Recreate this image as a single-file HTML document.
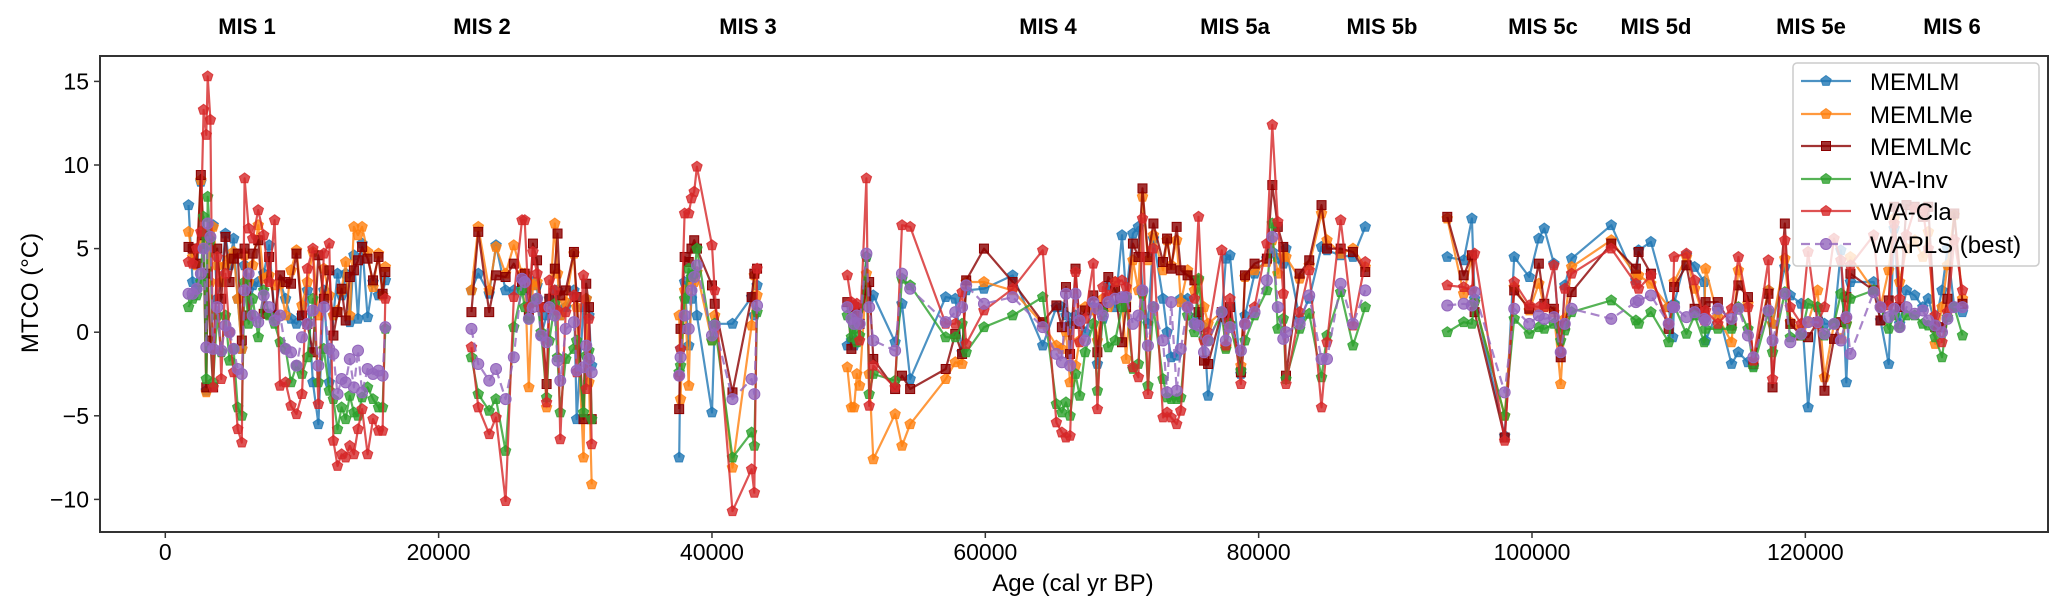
<!DOCTYPE html>
<html><head><meta charset="utf-8">
<style>
html,body{margin:0;padding:0;background:#fff;}
svg{display:block;font-family:"Liberation Sans",Arial,sans-serif;}
</style></head>
<body>
<svg id="chart" width="2067" height="614" viewBox="0 0 2067 614" xmlns="http://www.w3.org/2000/svg">
<rect x="0" y="0" width="2067" height="614" fill="#fff"/>
<g id="top-labels" font-weight="bold" font-size="22" text-anchor="middle" fill="#000">
<text x="247" y="34">MIS 1</text>
<text x="482" y="34">MIS 2</text>
<text x="748" y="34">MIS 3</text>
<text x="1048" y="34">MIS 4</text>
<text x="1235" y="34">MIS 5a</text>
<text x="1382" y="34">MIS 5b</text>
<text x="1543" y="34">MIS 5c</text>
<text x="1656" y="34">MIS 5d</text>
<text x="1811" y="34">MIS 5e</text>
<text x="1952" y="34">MIS 6</text>
</g>
<defs><clipPath id="plotclip"><rect x="100" y="56" width="1948" height="476"/></clipPath></defs>
<g id="axes"></g>
<g id="series" clip-path="url(#plotclip)"></g>
<rect x="100" y="56" width="1948" height="476" fill="none" stroke="#333" stroke-width="2"/>
<g id="legend"></g>
<text x="1073" y="591" font-size="24" text-anchor="middle">Age (cal yr BP)</text>
<text x="0" y="0" font-size="24" text-anchor="middle" transform="translate(38,293) rotate(-90)">MTCO (°C)</text>
</svg>
<script>
const ages = [
1700,2000,2300,2600,2800,3000,3100,3300,3500,3800,4100,4400,4700,5000,5300,5600,5800,6100,6400,6800,7200,7600,8000,8400,8800,9200,9600,10000,10400,10800,11200,11600,12000,12300,12600,12900,13200,13500,13800,14100,14400,14800,15200,15600,15900,16100,
22400,22900,23700,24200,24900,25500,26100,26300,26600,26900,27200,27500,27900,28100,28500,28700,28900,29300,29900,30100,30600,30800,31000,31200,
37600,37700,38000,38300,38500,38700,38900,40000,40200,41500,42900,43100,43300,
49900,50200,50400,50600,50800,51300,51500,51800,53400,53900,54500,57100,57800,58300,58600,59900,62000,64200,65200,65600,65900,66200,66600,66900,67300,67900,68200,68600,69000,69500,70000,70300,70800,71200,71500,71900,72300,73000,73300,73600,74000,74300,74800,75300,75600,76000,76300,77300,77600,77900,78700,79000,79700,80600,81000,81400,81800,82000,83000,83700,84600,85000,86000,86900,87800,
93800,95000,95600,95800,98000,98700,99800,100500,100900,101600,102100,102400,102900,105800,107600,107800,108700,110000,110300,110400,111300,111900,112600,112700,113600,114600,115100,115800,116200,117300,117600,118500,118900,119700,120200,120900,121400,122100,122600,123000,123300,125000,125500,126100,126500,126900,127400,128000,128600,129000,129500,130000,130400,130900,131500];
const memlm = [
7.6,3,2.6,9,5,-3.5,6,5.5,6.4,2,3,5.9,4,5.6,2,-1,4,2.5,2.8,3,3.5,5.2,1,3,2,0.8,0.5,1,2.5,-3,-5.5,2.5,-3,1,3.5,2.2,3.5,0.6,4.6,0.8,5.3,0.9,3,2.2,2.2,3.1,
2.5,3.5,2.3,5.2,2.5,2.5,3,2.5,1.5,3,2.8,-0.2,1,2,2.5,2.5,1,1.5,2.5,-5.2,1.5,2,1,-2,
-7.5,-1,3,-0.8,2,3.5,1,-4.8,0.5,0.5,2.1,1,2.8,
-0.8,-0.5,-0.8,1.5,0.5,4.5,2,2.2,-0.6,1.7,-2.8,2.1,2,-1.2,2.5,2.6,3.4,-0.8,1.5,1.5,1,0.5,1,0.5,0,1.5,-1.9,0.8,2.8,1.5,5.8,2.2,5.9,6.3,2.5,0.5,5.6,2,0,-1.5,-1.4,2,2,0.5,1,0.3,-3.8,1,4.4,4.6,-2.5,1,3.5,4.4,4.8,4.4,4.1,5,0.8,2,5.1,4.9,4.6,4.5,6.3,
4.5,4.3,6.8,2,-6.2,4.5,3.3,5.6,6.2,4.1,-1.3,2.8,4.4,6.4,3.1,4.9,5.4,1.5,-0.3,1.7,4.6,3.9,3,-0.5,1.3,-1.9,-1.2,-1.8,-2,2.5,0.5,3.9,2.2,1.7,-4.5,1.5,0.5,0.5,4.9,-3,3,3,0.7,-1.9,6.2,0.5,2.5,2.2,1.5,2,0.5,2.5,5,1.5,1.2];
const memlme = [
6,4.5,4,9.1,5.5,-3.6,6,3,6.3,4,3,4,4.4,4.8,2,-1,4.6,3,4,6.4,3.2,3.4,2.8,2.9,1,3.7,4.9,1.6,3,4.8,1,3.8,2.2,1,1.3,2.5,4.2,1,6.3,5.8,6.3,4.8,2.7,4.7,2.2,3.9,
2.5,6.3,2.5,5.1,3.5,5.2,3.5,3.5,-3.3,2.8,3,1.5,-4.5,1.5,6.5,3.5,1,1.8,4.7,1.5,-7.5,2,-3,-9.1,
1,-4,2.5,-3.2,3,3,3.6,-0.5,1,-8.1,0.4,3.4,2.2,
-2.1,-4.5,-4.5,-2.5,-3.2,3.5,-2.5,-7.6,-4.9,-6.8,-5.5,-2.8,-1.8,-1.9,3,3,2.5,0.5,-0.8,-1,0,-3,-2,-0.5,1.5,1.3,-0.5,2,1.5,3,1.9,-1.6,4.3,2.5,8.1,4.3,5.8,3.7,5.5,4,5.5,1.8,3.7,2.5,3.1,1.5,0.5,1.2,-0.9,0.5,-2,3.3,3.7,4.2,5.5,3.5,4.6,4.5,3.2,4,7.1,5.5,4.7,5,3.9,
6.8,2.3,4.5,1.8,-5,2.7,1.3,2.9,1.5,1.2,-3.1,0.8,3.9,5.5,3.4,3.4,2.9,1.5,1.5,3,4.5,2.6,0.8,3.8,0.9,-0.6,3.7,1.7,-1.7,2.5,0.5,4.4,0.6,0.2,0.6,2.5,-2.7,0.5,-0.4,0.5,4.5,2.5,1.5,3.7,6.8,3,5,5.5,4.5,6,-0.7,1.5,4,7,2];
const memlmc = [
5.1,5,4.1,9.4,5.8,-3.3,3.5,-0.5,-3.3,5,2,5.7,3,4.4,4.7,-0.5,5,1,4.7,5.5,1.1,4.5,1,3.4,3,2.9,4.7,1,0.5,-1.2,4.6,2,3.7,-0.2,1.2,2.6,0.7,3.3,3.7,4.3,5.1,4.4,3.1,4.5,2.3,3.6,
1.2,6,1.2,3.4,3.3,4.1,3,3.5,1,5.3,4.3,1.5,-3.1,2,3.8,5.9,2.2,2.5,4.8,2.1,-5.2,2.9,1.5,-5.2,
-4.6,0.2,4.5,4.2,5,5.5,5,2.8,1.7,-3.6,2.1,3.5,3.8,
1.8,-1,1.5,1.2,0.5,2.5,3,-1.6,-3.4,-2.6,-3.4,-2.2,-0.1,-1.3,3.1,5,3,0.6,1.6,0.3,2.7,-1.3,3.8,0.5,1.3,2.2,-1.2,1.5,3.3,2.5,-0.6,1.5,5.3,4.5,8.6,4.5,6.5,4.2,5.6,3.8,6.3,3.7,3.4,3.1,1.2,-1.7,-1.9,1.2,0.9,1.5,-2.4,3.4,4.1,4.4,8.8,6.3,5.1,-2.6,3.5,4.3,7.6,5,5,4.8,3.6,
6.9,3.4,4.6,1.2,-6.3,2.5,1.4,4.1,1.7,1.4,-1.5,0.4,2.4,5.3,3.8,4.8,3.5,0.2,1.5,2.7,4,1.4,1.2,1.8,1.8,0.4,2.8,2.1,-1.9,2.3,-3.3,6.5,0.5,-0.2,-0.3,0.6,-3.5,-0.4,0.6,2.1,3.5,2.5,0.7,1.9,7.5,1.5,7.6,7.5,6.9,7.5,0.3,0.3,2,7.1,1.7];
const waInv = [
1.5,2,2.2,3,6.9,-2.8,8.1,5.5,-3,1,-1.2,1,-1.7,-1,-4.5,-5,3,0.5,2,-0.3,2.5,1,0.5,-0.6,-1,-3,-2,-2.5,-1.5,2,-3,-1,-3.5,-4,-5.8,-4.5,-5.2,-3.8,-4.8,-5,-3.9,-3.3,-4,-4.5,-4.5,0.2,
-1.5,-3.7,-4.7,-4,-7.1,0.3,2.5,1.5,0.8,1.8,2,0,-3.9,-0.5,1.7,-1.5,-4.8,-1.6,-1,-0.5,-4.8,-1.4,-1.1,-5.2,
-2.4,-2,2,3.8,3.3,3.5,5,-0.5,0.5,-7.5,-6,-6.8,1.2,
1,-0.3,0.2,-0.6,-0.2,4.5,-3.7,-2.5,-2.9,3.2,2.8,-0.3,-0.3,0.5,-1.2,0.3,1,2.1,-4.3,-4.8,-4.2,-5,-2.5,-3.8,-1.2,0.5,-3.5,1.2,-0.9,-0.5,1.5,2,-2.2,-1.9,2.3,-3.2,1.5,-2.8,-3.9,-4,-4,-3.9,1,0,3.2,-0.4,-0.5,1.2,-1,0.5,-2.3,-0.5,1,2.5,6.5,0.2,0.8,-2.8,0.2,1.1,-2.7,-0.2,2.4,-0.8,1.5,
0,0.6,0.5,1.8,-5,0.8,-0.1,0.3,0.2,0.5,-0.5,0.1,1.2,1.9,0.7,0.5,1.2,-0.6,1.5,1.6,-0.1,1,-0.6,0.2,0.2,0.2,1.5,0.2,-2.1,1.2,-1.2,2.4,-0.3,-0.2,1.7,1.5,-0.2,0.5,2.3,0.5,2,2.5,1.5,0.2,1,0.3,1,1,0.5,0.4,-0.3,-1.5,0.9,1.5,-0.2];
const waCla = [
4.2,4.1,5,6,13.3,11.8,15.3,12.7,-3.3,4.5,-2.8,3.5,0,-2.4,-5.8,-6.6,9.2,6.2,5.6,7.3,5.8,3,6.7,-3.2,-3,-4.4,-4.9,-3.7,3.8,5,-4.3,4.7,5.3,-6.5,-8,-7.3,-7.5,-6.8,-7.3,-5.8,-4.6,-7.3,-5.2,-5.9,-5.9,2,
-0.9,-4.5,-6.1,-5.1,-10.1,2.1,6.7,6.7,1.5,4.8,3.5,1.5,-4.2,3.1,2.5,1.3,-6.4,1.2,2.2,-2.4,3.4,-3.4,0.8,-6.7,
-2.6,-1,7.1,7.1,8,8.4,9.9,5.2,2.5,-10.7,-8.2,-9.6,3.8,
3.4,1.8,1.6,1.7,-0.5,9.2,-4.4,-2,-3.3,6.4,6.3,0.5,0.5,2.4,-0.7,1.3,2.6,4.9,-5.4,-6,-6.3,-6.2,3.6,-0.6,0.8,4.1,-4.6,2.7,2.2,3,3.1,2.7,-2.1,-2.7,6.8,-3.7,5,-5.1,-4.8,-5.1,-5.5,-4.7,1.5,2,6.9,-0.5,0,4.9,-0.8,2,-3.1,0.5,1.5,5.3,12.4,6.6,2.3,-3.1,1.2,3.7,-4.5,-0.6,6.7,0.4,4.2,
2.8,2.7,2.5,4.7,-6.5,3,1.6,1.5,1.5,4,-1.2,2.6,3.5,5,2.9,2.6,3.4,0.5,1.5,4.5,4.7,3.1,0.7,1.3,0.5,1.4,4.5,1.5,-1.7,4.3,-2.8,5.5,1.5,0.5,4.8,0.5,1.5,5.6,4.3,0.8,4,5.8,1.5,1.6,6.5,2,5.8,7.4,7.3,5,1,-0.6,1.2,5.5,2.5];
const wapls = [
2.3,2.3,2.6,3.5,5,-0.9,6.5,5.7,-1,1.5,-1.1,0.4,0,-1,-2.2,-2.5,2.5,3.5,1,0.6,2.2,1.5,0.7,1,-1,-1.2,-2,-0.3,0.5,1.3,-2,1.5,-1,-1.3,-3.7,-2.8,-3,-1.6,-3.3,-1.1,-3.6,-2.2,-2.5,-2.3,-2.6,0.3,
0.2,-1.9,-2.9,-2.2,-4,-1.5,3.2,3,0.8,1.5,2,-0.2,-0.6,1.5,1,-1.7,-2.9,0.2,0.6,-2.3,-2.1,-0.8,-1.6,-2.4,
-2.6,-1.5,1,0.2,2.5,3.3,4,-0.2,0.4,-4,-2.8,-3.7,1.6,
1.5,0.8,0.5,1,0.5,4.7,1.5,-0.5,-1.1,3.5,2.6,0.6,1.2,1.5,2.8,1.7,2.1,0.3,-1.3,-1.8,2.3,-2,2.3,0.7,-0.5,1.8,1.4,1,1.8,2,2.1,2.1,0.5,1,2.5,-0.8,1.5,-0.5,-3.6,1.8,-3.5,-1,1.5,0.5,0.4,-1.2,-0.5,1.2,-0.5,0.3,-1.1,0.5,1.2,3.1,5.7,1.5,-0.4,0,0.5,2.2,-1.6,-1.6,2.9,0.5,2.5,
1.6,1.7,1.6,2.4,-3.6,1.4,0.5,1,0.8,0.9,-1.2,0.5,1.4,0.8,1.8,1.9,2.2,0.5,1.5,1.5,0.9,1.2,0.8,0.7,1.4,0.8,1.4,-0.2,-1.5,1.3,-0.5,2.3,-0.6,-0.1,0.6,0.6,-0.1,0.5,-0.5,0.9,-1.3,2.4,1.5,0.9,1.4,0.3,1.5,1.1,1.3,0.7,0.4,0,0.8,1.5,1.5];
const seriesNames = ["MEMLM","MEMLMe","MEMLMc","WA-Inv","WA-Cla","WAPLS (best)"];
const xTicks = [0,20000,40000,60000,80000,100000,120000];
const yTicks = [-10,-5,0,5,10,15];

const NS = "http://www.w3.org/2000/svg";
const X0 = 165.3, XS = 0.013667, Y0 = 332.2, YS = 16.72;
function xs(a){ return X0 + a*XS; }
function ys(v){ return Y0 - v*YS; }
function mk(tag, attrs, parent){
  const e = document.createElementNS(NS, tag);
  for (const k in attrs) e.setAttribute(k, attrs[k]);
  parent.appendChild(e);
  return e;
}
const styles = [
  {data: memlm, color:"#1f77b4", marker:"pent", dash:null},
  {data: memlme, color:"#ff7f0e", marker:"pent", dash:null},
  {data: memlmc, color:"#8b0000", marker:"square", dash:null},
  {data: waInv, color:"#2ca02c", marker:"pent", dash:null},
  {data: waCla, color:"#d62728", marker:"pent", dash:null},
  {data: wapls, color:"#9467bd", marker:"circle", dash:"9,5"}
];
function pentPts(cx, cy, r){
  let p = [];
  for (let i=0;i<5;i++){ const a = -Math.PI/2 + i*2*Math.PI/5; p.push((cx+r*Math.cos(a)).toFixed(1)+","+(cy+r*Math.sin(a)).toFixed(1)); }
  return p.join(" ");
}
function drawMarker(g, type, cx, cy, color, name){
  let e;
  if (type === "pent") e = mk("polygon", {points: pentPts(cx, cy, 5.5), fill: color, "fill-opacity": 0.8, stroke: color, "stroke-opacity": 0.8, "stroke-width": 1}, g);
  else if (type === "square") e = mk("rect", {x: cx-4.5, y: cy-4.5, width: 9, height: 9, fill: color, "fill-opacity": 0.8, stroke: color, "stroke-width": 1}, g);
  else e = mk("circle", {cx: cx, cy: cy, r: 5.5, fill: color, "fill-opacity": 0.8, stroke: color, "stroke-width": 1}, g);
  
  
}
// axes
const axes = document.getElementById("axes");
xTicks.forEach(t => {
  const px = xs(t);
  const l = mk("line", {x1: px, x2: px, y1: 532, y2: 538, stroke: "#333", "stroke-width": 1.5}, axes);
  
  
  const tx = mk("text", {x: px, y: 560, "font-size": 23, "text-anchor": "middle"}, axes);
  tx.textContent = t;
  
  
});
yTicks.forEach(t => {
  const py = ys(t);
  const l = mk("line", {x1: 94, x2: 100, y1: py, y2: py, stroke: "#333", "stroke-width": 1.5}, axes);
  
  
  const tx = mk("text", {x: 89, y: py + 8, "font-size": 23, "text-anchor": "end"}, axes);
  tx.textContent = t < 0 ? "\u2212" + Math.abs(t) : String(t);
  
  
});
// series
const sg = document.getElementById("series");
styles.forEach((s, si) => {
  const g = mk("g", {}, sg);
  
  
  let segs = [], cur = [];
  for (let i=0;i<ages.length;i++){
    if (i>0 && ages[i]-ages[i-1] > 4000){ segs.push(cur); cur = []; }
    cur.push([xs(ages[i]), ys(s.data[i])]);
  }
  segs.push(cur);
  segs.forEach(seg => {
    const attrs = {points: seg.map(p => p[0].toFixed(1)+","+p[1].toFixed(1)).join(" "), fill: "none", stroke: s.color, "stroke-width": 2.2, "stroke-opacity": 0.8, "stroke-linejoin": "round"};
    if (s.dash) attrs["stroke-dasharray"] = s.dash;
    const pl = mk("polyline", attrs, g);
    
    
  });
  for (let i=0;i<ages.length;i++) drawMarker(g, s.marker, xs(ages[i]), ys(s.data[i]), s.color, 'data-point');
});
// legend
const lg = document.getElementById("legend");
const box = mk("rect", {x: 1793, y: 63, width: 246, height: 203, rx: 4, fill: "#fff", "fill-opacity": 0.8, stroke: "#ccc", "stroke-width": 1.5}, lg);


const ly = [81,114,146,179,211,244];
styles.forEach((s, i) => {
  const g = mk("g", {}, lg);
  
  
  const la = {x1: 1801, x2: 1851, y1: ly[i], y2: ly[i], stroke: s.color, "stroke-width": 2.2, "stroke-opacity": 0.8};
  if (s.dash) la["stroke-dasharray"] = "9,5";
  const ln = mk("line", la, g);
  
  
  drawMarker(g, s.marker, 1826, ly[i], s.color, 'legend-marker');
  const t = mk("text", {x: 1870, y: ly[i] + 9, "font-size": 24}, g);
  t.textContent = seriesNames[i];
  
  
});
</script>
</body></html>
